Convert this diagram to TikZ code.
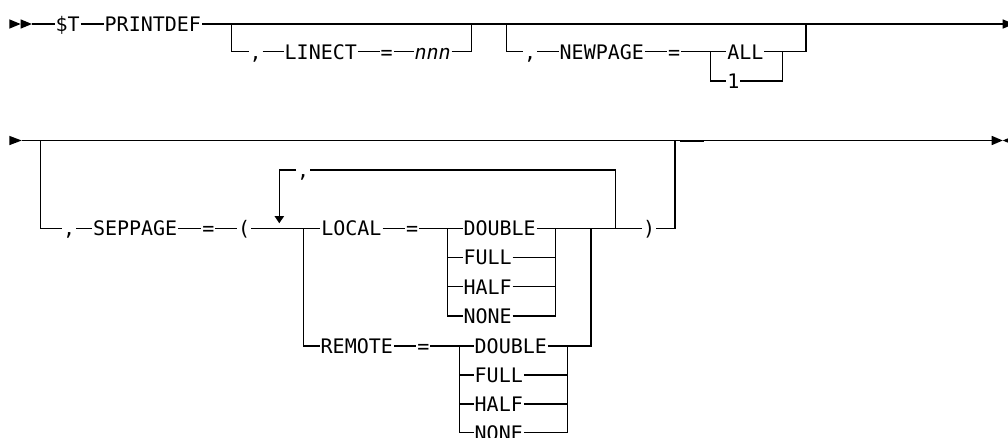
\documentclass[tikz,border=0pt]{standalone}
\usepackage{fontspec}
\setmonofont{DejaVu Sans Mono}
\usetikzlibrary{arrows.meta}
\begin{document}
\begin{tikzpicture}[x=1pt,y=-1pt,
  lbl/.style={font=\ttfamily\fontsize{20}{22}\selectfont, inner sep=0pt, outer xsep=1pt, outer ysep=0pt, text height=14.6pt, text depth=0pt, anchor=west},
  ln/.style={line width=1.3pt, line cap=butt, line join=miter},
  mk/.style={fill=black}]
\useasboundingbox (0,0) rectangle (1008,437);

% ---------- row 1 ----------
\fill[mk] (9.3,19.3) -- (20.6,24) -- (9.3,28.7) -- cycle;
\fill[mk] (20.6,19.3) -- (31.9,24) -- (20.6,28.7) -- cycle;
\coordinate (s1) at (31.9,24);
\node[lbl] (dT) at (54.5,24) {\$T};
\node[lbl] (pd) at (103.7,24) {PRINTDEF};
\coordinate (b1) at (231.7,24);
\coordinate (j1) at (471.7,24);
\coordinate (b2) at (506.7,24);
\coordinate (j2) at (806,24);
\coordinate (e1) at (1002.7,24);
\draw[ln] (s1) -- (dT.west);
\draw[ln] (dT.east) -- (pd.west);
\draw[ln] (pd.east) -- (e1);
\fill[mk] (1002.7,19.3) -- (1014,24) -- (1002.7,28.7) -- cycle;

\node[lbl] (c1) at (248.5,51.7) {,};
\node[lbl] (lin) at (283.7,51.7) {LINECT};
\node[lbl] (eq1) at (379.7,51.7) {=};
\node[lbl] (nnn) at (413.5,51.7) {\itshape nnn};
\draw[ln] (b1) |- (c1.west);
\draw[ln] (c1.east) -- (lin.west);
\draw[ln] (lin.east) -- (eq1.west);
\draw[ln] (eq1.east) -- (nnn.west);
\draw[ln] (nnn.east) -| (j1);

\node[lbl] (c2) at (523,51.7) {,};
\node[lbl] (np) at (558.7,51.7) {NEWPAGE};
\node[lbl] (eq2) at (667,51.7) {=};
\coordinate (s2) at (710.7,51.7);
\node[lbl] (all) at (726.3,51.7) {ALL};
\node[lbl] (one) at (726.3,81) {1};
\coordinate (j2a) at (782.7,51.7);
\draw[ln] (b2) |- (c2.west);
\draw[ln] (c2.east) -- (np.west);
\draw[ln] (np.east) -- (eq2.west);
\draw[ln] (eq2.east) -- (s2) -- (all.west);
\draw[ln] (s2) |- (one.west);
\draw[ln] (all.east) -- (j2a);
\draw[ln] (one.east) -| (j2a);
\draw[ln] (j2a) -| (j2);

% ---------- row 2 ----------
\fill[mk] (9.3,135.8) -- (21.7,140.5) -- (9.3,145.2) -- cycle;
\coordinate (s3) at (21.7,140.5);
\coordinate (b3) at (40.7,140.5);
\coordinate (j3) at (675,140.5);
\coordinate (e2) at (991.7,140.5);
\draw[ln] (s3) -- (e2);
\fill[mk] (991.7,135.8) -- (1002.7,140.5) -- (991.7,145.2) -- cycle;
\fill[mk] (1014,135.8) -- (1002.7,140.5) -- (1014,145.2) -- cycle;
\coordinate (t1) at (680,141.8);
\coordinate (t2) at (704,141.8);
\draw[ln] (t1) -- (t2);

\node[lbl] (c3) at (62.2,228.3) {,};
\node[lbl] (sep) at (92,228.3) {SEPPAGE};
\node[lbl] (eq3) at (201.3,228.3) {=};
\node[lbl] (lp) at (237.2,228.3) {(};
\coordinate (sp3) at (303.3,228.3);
\node[lbl] (loc) at (320.3,228.3) {LOCAL};
\node[lbl] (eq4) at (405,228.3) {=};
\coordinate (sp4) at (447.3,228.3);
\node[lbl] (ld) at (462.5,228.3) {DOUBLE};
\node[lbl] (lf) at (462.5,257.3) {FULL};
\node[lbl] (lh) at (462.5,286.7) {HALF};
\node[lbl] (lnone) at (462.5,316) {NONE};
\coordinate (jn4) at (555.3,228.3);
\coordinate (jo) at (591,228.3);
\coordinate (jl) at (615.7,228.3);
\node[lbl] (rp) at (642.2,228.3) {)};

\node[lbl] (rem) at (319.7,346) {REMOTE};
\node[lbl] (eq5) at (416.3,346) {=};
\coordinate (sp5) at (459.3,346);
\node[lbl] (rd) at (473.7,346) {DOUBLE};
\node[lbl] (rf) at (473.7,375) {FULL};
\node[lbl] (rh) at (473.7,404) {HALF};
\node[lbl] (rn) at (473.7,432.7) {NONE};
\coordinate (jn5) at (567.3,346);
\coordinate (jo2) at (591,346);

\node[lbl] (lc) at (296,170) {,};
\coordinate (tip) at (279.3,223.3);

\draw[ln] (b3) |- (c3.west);
\draw[ln] (c3.east) -- (sep.west);
\draw[ln] (sep.east) -- (eq3.west);
\draw[ln] (eq3.east) -- (lp.west);
\draw[ln] (lp.east) -- (sp3) -- (loc.west);
\draw[ln] (sp3) |- (rem.west);
\draw[ln] (loc.east) -- (eq4.west);
\draw[ln] (eq4.east) -- (sp4) -- (ld.west);
\draw[ln] (sp4) |- (lf.west);
\draw[ln] (sp4) |- (lh.west);
\draw[ln] (sp4) |- (lnone.west);
\draw[ln] (ld.east) -- (jn4);
\draw[ln] (lf.east) -| (jn4);
\draw[ln] (lh.east) -| (jn4);
\draw[ln] (lnone.east) -| (jn4);
\draw[ln] (jn4) -- (jo) -- (jl) -- (rp.west);
\draw[ln] (rp.east) -| (j3);

\draw[ln] (rem.east) -- (eq5.west);
\draw[ln] (eq5.east) -- (sp5) -- (rd.west);
\draw[ln] (sp5) |- (rf.west);
\draw[ln] (sp5) |- (rh.west);
\draw[ln] (sp5) |- (rn.west);
\draw[ln] (rd.east) -- (jn5);
\draw[ln] (rf.east) -| (jn5);
\draw[ln] (rh.east) -| (jn5);
\draw[ln] (rn.east) -| (jn5);
\draw[ln] (jn5) -- (jo2) -- (jo);

\draw[ln] (jl) |- (lc.east);
\draw[ln,-{Triangle[length=7.3pt,width=9.4pt]}] (lc.west) -| (tip);
\end{tikzpicture}
\end{document}
